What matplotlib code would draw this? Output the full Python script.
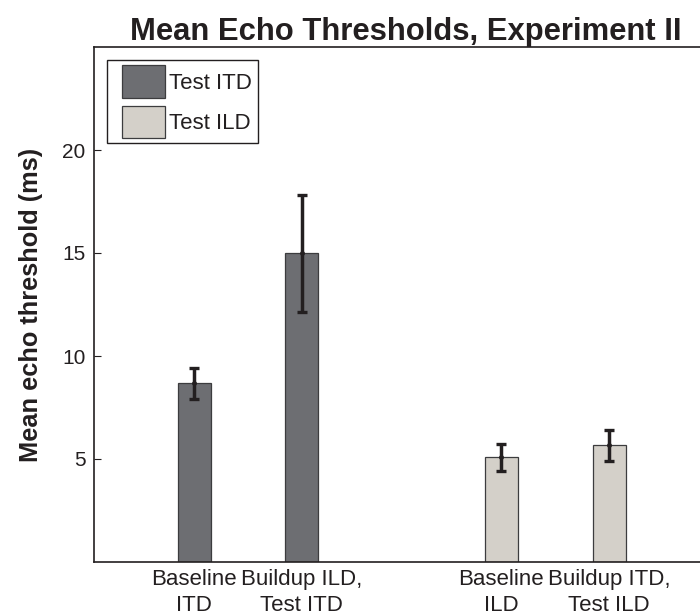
import matplotlib
matplotlib.use("Agg")
import matplotlib.pyplot as plt
from matplotlib.patches import Patch, Rectangle
from matplotlib.legend_handler import HandlerPatch

# ---- data ----
categories = ["Baseline\nITD", "Buildup ILD,\nTest ITD", "Baseline\nILD", "Buildup ITD,\nTest ILD"]
means = [8.67, 14.98, 5.08, 5.66]
errors = [0.75, 2.85, 0.66, 0.75]
test_cue = ["Test ITD", "Test ITD", "Test ILD", "Test ILD"]
legend_labels = ["Test ITD", "Test ILD"]
yticks = [5, 10, 15, 20]

# ---- style ----
plt.rcParams['font.family'] = ['Liberation Sans', 'DejaVu Sans']
ink = "#231f20"
cue_colors = {"Test ITD": "#6d6e72", "Test ILD": "#d4d0c9"}

fig = plt.figure(figsize=(7, 6.15), dpi=100)
ax = fig.add_axes([94/700, 53/615, 623/700, 515/615])

# positions: two pairs separated by a wider gap
gap = 1.85
positions = []
for i in range(len(categories)):
    positions.append(i + (gap - 1) * (i >= 2) + 1)

colors = [cue_colors[c] for c in test_cue]
ax.bar(positions, means, width=0.306, color=colors, edgecolor="#3c3c3e",
       linewidth=0.9, zorder=2)
ax.errorbar(positions, means, yerr=errors, fmt='o', markersize=2.5,
            color=ink, ecolor=ink, elinewidth=2.5, capsize=3.5,
            capthick=2.4, zorder=3)

ax.set_xlim(0.072, 5.85)
ax.set_ylim(0, 25)
ax.set_yticks(yticks)
ax.set_yticklabels([str(t) for t in yticks])
ax.set_xticks(positions)
ax.set_xticklabels(categories, linespacing=1.3)

ax.tick_params(axis='y', direction='in', length=5, width=0.8, pad=6,
               labelsize=15, colors=ink, labelcolor=ink)
ax.tick_params(axis='x', length=0, pad=5, labelsize=16, labelcolor=ink)

for side in ['left', 'bottom', 'top', 'right']:
    ax.spines[side].set_color(ink)
    ax.spines[side].set_linewidth(1.2)

ax.set_ylabel("Mean echo threshold (ms)", fontsize=18.3, fontweight='bold', color=ink)
ax.yaxis.set_label_coords(-0.082, 0.5)
ax.set_title("Mean Echo Thresholds, Experiment II", fontsize=22.3,
             fontweight='bold', color=ink, pad=4)


# legend swatch shifted right inside its handle box
def swatch(legend, orig_handle, xdescent, ydescent, width, height, fontsize):
    shift = width * 9.5 / 52.5
    return Rectangle((-xdescent + shift, -ydescent), width - shift, height)


handles = [Patch(facecolor=cue_colors[l], edgecolor="#3c3c3e", linewidth=0.9)
           for l in legend_labels]
leg = ax.legend(handles, legend_labels, loc='upper left', fontsize=16,
                handlelength=2.36, handleheight=1.85, handletextpad=0.2,
                labelspacing=0.36, borderpad=0.25, borderaxespad=0.58,
                fancybox=False, framealpha=1, edgecolor=ink,
                handler_map={Patch: HandlerPatch(patch_func=swatch)})
leg.get_frame().set_linewidth(1.0)
for t in leg.get_texts():
    t.set_color(ink)

fig.savefig("out.png", dpi=100)
